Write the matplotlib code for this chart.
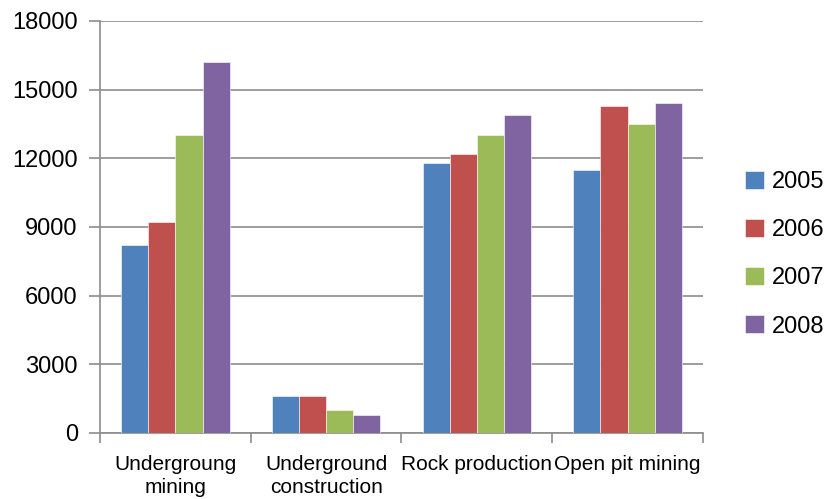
import matplotlib.pyplot as plt
import numpy as np

categories = ['Undergroung\nmining', 'Underground\nconstruction', 'Rock production', 'Open pit mining']
years = ['2005', '2006', '2007', '2008']
v2005 = [8200, 1600, 11800, 11500]
v2006 = [9200, 1600, 12200, 14300]
v2007 = [13000, 1000, 13000, 13500]
v2008 = [16200, 800, 13900, 14400]
series = [v2005, v2006, v2007, v2008]
colors = ['#4F81BD', '#C0504D', '#9BBB59', '#8064A2']

plt.rcParams['font.family'] = ['Liberation Sans', 'DejaVu Sans']

fig = plt.figure(figsize=(8.24, 4.99), dpi=100)
ax = fig.add_axes([0.1214, 0.1323, 0.7316, 0.8257])

x = np.arange(len(categories))
w = 0.18
for i, vals in enumerate(series):
    ax.bar(x + (i - 1.5) * w, vals, width=w, color=colors[i], label=years[i],
           edgecolor='white', linewidth=0.4, zorder=3)

ax.set_xlim(-0.5, len(categories) - 0.5)
ax.set_ylim(0, 18000)
ax.set_yticks(np.arange(0, 18001, 3000))
ax.yaxis.grid(True, color='#8c8c8c', linewidth=1.2, zorder=0)

ax.set_xticks(x)
ax.set_xticklabels(categories, fontsize=15, linespacing=1.25)
ax.set_xticks(np.arange(-0.5, len(categories), 1), minor=True)
ax.tick_params(axis='x', which='major', length=0, pad=16)
ax.tick_params(axis='x', which='minor', length=7, width=1.2, color='#8c8c8c', direction='out')
ax.tick_params(axis='y', length=8, width=1.2, color='#8c8c8c', labelsize=17, pad=8)

for s in ['top', 'right']:
    ax.spines[s].set_visible(False)
for s in ['left', 'bottom']:
    ax.spines[s].set_color('#8c8c8c')
    ax.spines[s].set_linewidth(1.2)

leg = ax.legend(loc='center left', bbox_to_anchor=(1.035, 0.434), frameon=False,
                fontsize=17, handlelength=0.8, handleheight=0.8, labelspacing=1.1,
                handletextpad=0.35)

fig.savefig('out.png', dpi=100)
